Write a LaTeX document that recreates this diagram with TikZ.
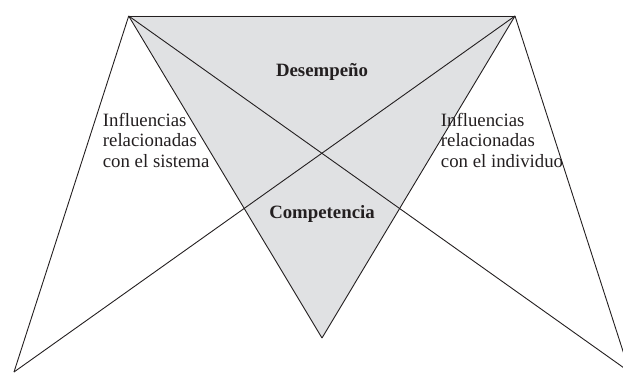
\documentclass[tikz,border=0pt]{standalone}
\usepackage{fontspec}
\setmainfont{Liberation Serif}
\definecolor{shade}{RGB}{224,225,227}
\definecolor{ink}{RGB}{35,31,32}

\begin{document}
\begin{tikzpicture}[x=1pt,y=1pt]

      \clip (0,0) rectangle (623,373);

      \coordinate (1) at (128.7,357);
      \coordinate (2) at (515,357);
      \coordinate (3) at (322,35);
      \coordinate (4) at (14,1);
      \coordinate (5) at (629.7,1);

      \path[fill=shade] (1) -- (2) -- (3) -- cycle;

      \begin{scope}[every edge/.style={draw=ink, line width=.9pt}]
        \path (1) edge (2);
        \path (1) edge (3);
        \path (2) edge (3);
        \path (1) edge (4);
        \path (2) edge (5);
        \path (1) edge (5);
        \path (2) edge (4);
      \end{scope}

      \begin{scope}[every node/.style={inner sep=0pt, text=ink, font=\fontsize{18.8}{20.5}\selectfont}]
        \node[anchor=base] (desempeno) at (322,296.3) {\textbf{Desempeño}};
        \node[anchor=base] (competencia) at (322,155) {\textbf{Competencia}};
        \node[anchor=base west, align=left] (sistema) at (102.7,206)
          {Influencias\\relacionadas\\con el sistema};
        \node[anchor=base west, align=left] (individuo) at (440.7,206)
          {Influencias\\relacionadas\\con el individuo};
      \end{scope}

    \end{tikzpicture}
\end{document}
